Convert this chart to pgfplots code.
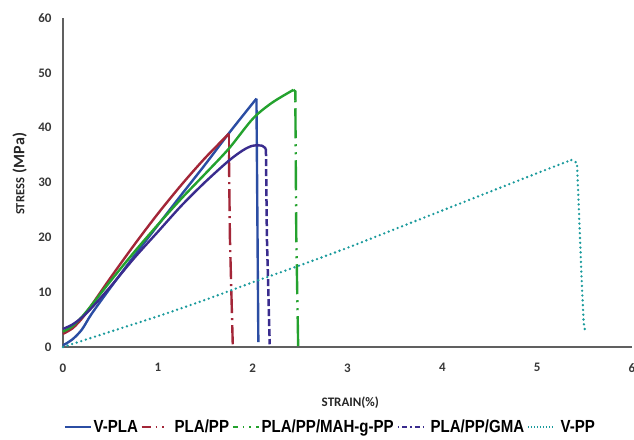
\documentclass[border=0pt]{standalone}
\usepackage{pgfplots}
\pgfplotsset{compat=1.18}
\usepackage{fontspec}
\setmainfont{Carlito}
\newfontfamily\legfont[FakeStretch=0.86]{Liberation Sans}
\definecolor{cVPLA}{HTML}{2B4DA3}
\definecolor{cPLAPP}{HTML}{A32638}
\definecolor{cMAH}{HTML}{24A22E}
\definecolor{cGMA}{HTML}{3A2C8E}
\definecolor{cVPP}{HTML}{1A9A9C}
\definecolor{axgray}{HTML}{606060}
\definecolor{tickgray}{HTML}{383838}

\begin{document}
\begin{tikzpicture}
\path[use as bounding box] (-63pt,-92pt) rectangle (571pt,347pt);
\begin{axis}[
    scale only axis,
    width=569pt, height=329pt,
    at={(0,0)}, anchor=origin,
    xmin=0, xmax=6, ymin=0, ymax=60,
    xtick={0,1,...,6}, ytick={0,10,...,60},
    axis x line*=bottom, axis y line*=left,
    axis line style={-, axgray, line width=1.3pt},
    major tick length=0pt,
    tick label style={font=\fontsize{13}{15}\selectfont\bfseries, text=tickgray},
    /pgf/number format/assume math mode=true,
    yticklabel style={xshift=-8pt},
    xticklabel style={yshift=-13pt},
    xlabel={\fontsize{13}{15}\selectfont\bfseries STRAIN(\%)},
    xlabel style={at={(axis description cs:0.505,-0.17)}, anchor=center, text=black!85},
    ylabel={{\fontsize{12.5}{14}\selectfont\bfseries STRESS}\hspace{5pt}{\fontsize{16}{18}\selectfont\bfseries(MPa)}},
    ylabel style={at={(axis description cs:-0.076,0.526)}, anchor=center, rotate=0, text=black!85},
    legend style={at={(axis description cs:0.47,-0.243)}, anchor=center, draw=none,
        legend columns=5, font=\legfont\fontsize{17.5}{19}\selectfont\bfseries,
        inner ysep=0pt,
        /tikz/every even column/.append style={column sep=1pt},
        /tikz/every odd column/.append style={column sep=0pt}},
    legend image code/.code={\draw[#1] (0pt,0pt) -- (26pt,0pt);},
    clip=false,
]
% rising parts (dense data, look solid)
\addplot[cVPLA, line width=2.4pt, smooth, forget plot] coordinates {
    (0,0.3) (0.1,1.4) (0.2,3.2) (0.3,6) (0.5,10.8) (0.75,16.6) (1,22.2)
    (1.25,27.8) (1.5,33.3) (1.75,39) (2.04,45.3)};
\addplot[cVPLA, line width=2.4pt, forget plot] coordinates {
    (2.04,45.3) (2.06,0.9)};
\addplot[cPLAPP, line width=2.4pt, smooth, forget plot] coordinates {
    (0,2.4) (0.1,3.4) (0.2,5.2) (0.3,7.6) (0.5,12.6) (0.75,18.6) (1,24.3)
    (1.25,29.6) (1.5,34.5) (1.75,38.9)};
\addplot[cPLAPP, line width=2.4pt, forget plot] coordinates {
    (1.75,38.9) (1.75,35)};
\addplot[cPLAPP, line width=2.4pt, dash pattern=on 22pt off 5pt on 2pt off 5pt, forget plot] coordinates {
    (1.75,35) (1.76,20) (1.79,0.5)};
\addplot[cMAH, line width=2.4pt, smooth, forget plot] coordinates {
    (0,2.8) (0.1,3.8) (0.2,5.5) (0.3,7.6) (0.5,12) (0.75,17.3) (1,22.3)
    (1.25,27.1) (1.5,31.6) (1.75,36.2) (2,41.6) (2.2,44.5) (2.43,46.9)};
\addplot[cMAH, line width=2.4pt, forget plot] coordinates {
    (2.43,46.9) (2.45,46.6) (2.45,45)};
\addplot[cMAH, line width=2.4pt, dash pattern=on 2pt off 6pt on 30pt off 6pt on 2pt off 6pt, forget plot] coordinates {
    (2.45,45) (2.46,20) (2.48,0)};
\addplot[cGMA, line width=2.4pt, smooth, forget plot] coordinates {
    (0,3.3) (0.1,4.1) (0.2,5.4) (0.3,7.1) (0.5,11) (0.75,16.2) (1,21)
    (1.25,25.8) (1.5,30.1) (1.75,34) (1.9,35.9) (2.0,36.7) (2.1,36.7) (2.14,36.1)};
\addplot[cGMA, line width=2.5pt, dash pattern=on 7pt off 3pt, forget plot] coordinates {
    (2.14,36.1) (2.15,20) (2.18,0.5)};
\addplot[cVPP, line width=2.6pt, line cap=round, dash pattern=on 0pt off 4.8pt, smooth, forget plot] coordinates {
    (0,0) (0.5,2.8) (1,5.6) (1.5,8.6) (2,11.8) (2.5,14.9) (3,18.1) (3.5,21.5)
    (4,24.9) (4.5,28.3) (5,31.7) (5.36,34.1)};
\addplot[cVPP, line width=2.6pt, line cap=round, dash pattern=on 0pt off 4.8pt, forget plot] coordinates {
    (5.36,34.1) (5.42,33.6) (5.44,25) (5.47,12) (5.49,4.5) (5.51,2.5)};
% legend
\addlegendimage{cVPLA, line width=1.6pt}
\addlegendentry{V-PLA}
\addlegendimage{cPLAPP, line width=1.6pt, dash pattern=on 9pt off 5pt on 1.6pt off 5pt on 1.6pt off 5pt}
\addlegendentry{\ PLA/PP}
\addlegendimage{cMAH, line width=1.6pt, dash pattern=on 5pt off 5pt on 1.6pt off 5pt on 1.6pt off 5pt on 8pt}
\addlegendentry{PLA/PP/MAH-g-PP}
\addlegendimage{cGMA, line width=1.6pt, dash pattern=on 1.6pt off 3pt on 5pt off 3pt}
\addlegendentry{\ PLA/PP/GMA}
\addlegendimage{cVPP, line width=1.2pt, dash pattern=on 1.2pt off 1.8pt}
\addlegendentry{\ V-PP}
\end{axis}
\end{tikzpicture}
\end{document}
